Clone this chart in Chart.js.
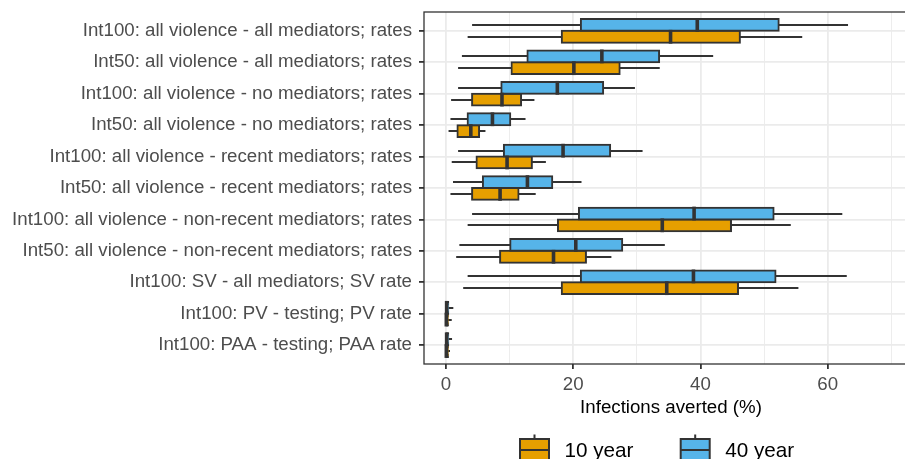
<!DOCTYPE html>
<html>
<head>
<meta charset="utf-8">
<script src="https://cdn.jsdelivr.net/npm/chart.js@4.4.1/dist/chart.umd.min.js"></script>
<style>
  html, body { margin: 0; padding: 0; background: #fff; overflow: hidden; }
</style>
</head>
<body>
<canvas id="chartContainer" width="928" height="475"></canvas>
<script>
// categories, top to bottom
const categories = [
    'Int100: all violence - all mediators; rates',
    'Int50: all violence - all mediators; rates',
    'Int100: all violence - no mediators; rates',
    'Int50: all violence - no mediators; rates',
    'Int100: all violence - recent mediators; rates',
    'Int50: all violence - recent mediators; rates',
    'Int100: all violence - non-recent mediators; rates',
    'Int50: all violence - non-recent mediators; rates',
    'Int100: SV - all mediators; SV rate',
    'Int100: PV - testing; PV rate',
    'Int100: PAA - testing; PAA rate'
];

// 10 year boxplot stats (% infections averted)
const tenLow    = [3.4, 1.9, 0.8, 0.4, 0.9, 0.7, 3.4, 1.6, 2.7, 0, 0];
const tenQ1     = [18.2, 10.3, 4.1, 1.8, 4.8, 4.1, 17.6, 8.5, 18.2, 0, 0];
const tenMedian = [35.3, 20.1, 8.8, 3.9, 9.6, 8.5, 34.0, 16.9, 34.7, 0.05, 0.05];
const tenQ3     = [46.2, 27.3, 11.8, 5.2, 13.5, 11.4, 44.8, 22.0, 45.9, 0.3, 0.3];
const tenHigh   = [56.0, 33.6, 13.9, 6.2, 15.7, 14.1, 54.2, 26.0, 55.4, 0.9, 0.63];

// 40 year boxplot stats
const fortyLow    = [4.1, 2.5, 1.9, 0.7, 1.9, 1.1, 4.1, 2.1, 3.4, 0, 0];
const fortyQ1     = [21.2, 12.8, 8.7, 3.4, 9.1, 5.8, 20.9, 10.1, 21.2, 0, 0];
const fortyMedian = [39.5, 24.5, 17.5, 7.3, 18.4, 12.8, 39.0, 20.4, 38.9, 0.1, 0.1];
const fortyQ3     = [52.3, 33.5, 24.7, 10.1, 25.8, 16.7, 51.5, 27.7, 51.8, 0.35, 0.35];
const fortyHigh   = [63.2, 42.0, 29.7, 12.5, 30.9, 21.3, 62.3, 34.4, 63.0, 1.15, 0.95];

const xTicks = [0, 20, 40, 60];

const ORANGE = '#E69F00';
const BLUE = '#56B4E9';
const DARK = '#333333';
const FONT = '"Liberation Sans", Arial, Helvetica, sans-serif';

Chart.defaults.font.family = FONT;

function boxData(q1, q3) {
    return categories.map((c, i) => ({ y: i, x: [q1[i], q3[i]] }));
}

// whiskers under the boxes, medians + panel border + legend on top
const boxExtras = {
    id: 'boxExtras',
    beforeDatasetsDraw(chart) {
        const ctx = chart.ctx;
        const xs = chart.scales.x;
        ctx.save();
        ctx.strokeStyle = DARK;
        ctx.lineWidth = 2;
        chart.data.datasets.forEach((ds, d) => {
            chart.getDatasetMeta(d).data.forEach((bar, i) => {
                const y = Math.round(bar.y);
                ctx.beginPath();
                ctx.moveTo(xs.getPixelForValue(ds.low[i]), y);
                ctx.lineTo(xs.getPixelForValue(ds.q1[i]), y);
                ctx.moveTo(xs.getPixelForValue(ds.q3[i]), y);
                ctx.lineTo(xs.getPixelForValue(ds.high[i]), y);
                ctx.stroke();
            });
        });
        ctx.restore();
    },
    afterDatasetsDraw(chart) {
        const ctx = chart.ctx;
        const xs = chart.scales.x;
        ctx.save();
        ctx.strokeStyle = DARK;
        ctx.lineWidth = 3.6;
        ctx.lineCap = 'butt';
        chart.data.datasets.forEach((ds, d) => {
            chart.getDatasetMeta(d).data.forEach((bar, i) => {
                const px = xs.getPixelForValue(ds.med[i]);
                ctx.beginPath();
                ctx.moveTo(px, bar.y - bar.height / 2 - 1);
                ctx.lineTo(px, bar.y + bar.height / 2 + 1);
                ctx.stroke();
            });
        });
        ctx.restore();
    },
    afterDraw(chart) {
        const ctx = chart.ctx;
        const a = chart.chartArea;
        ctx.save();
        // panel border
        ctx.strokeStyle = DARK;
        ctx.lineWidth = 1.3;
        ctx.strokeRect(a.left, a.top, a.right - a.left, a.bottom - a.top);

        // axis title
        const mid = (a.left + a.right) / 2;
        ctx.fillStyle = '#000';
        ctx.font = '18.7px ' + FONT;
        ctx.textAlign = 'center';
        ctx.textBaseline = 'middle';
        ctx.fillText('Infections averted (%)', mid, a.bottom + 44);

        // legend
        const items = [
            { label: '10 year', fill: ORANGE, x: mid - 151 },
            { label: '40 year', fill: BLUE, x: mid + 9.7 }
        ];
        const keyTop = a.bottom + 75;
        ctx.font = '20.7px ' + FONT;
        ctx.textBaseline = 'alphabetic';
        items.forEach(it => {
            const w = 29, h = 22, cx = it.x + w / 2;
            ctx.strokeStyle = DARK;
            ctx.lineWidth = 2;
            ctx.beginPath();
            ctx.moveTo(cx, keyTop - 4.5);
            ctx.lineTo(cx, keyTop);
            ctx.moveTo(cx, keyTop + h);
            ctx.lineTo(cx, keyTop + h + 4.5);
            ctx.stroke();
            ctx.fillStyle = it.fill;
            ctx.fillRect(it.x, keyTop, w, h);
            ctx.strokeRect(it.x, keyTop, w, h);
            ctx.beginPath();
            ctx.moveTo(it.x, keyTop + h / 2);
            ctx.lineTo(it.x + w, keyTop + h / 2);
            ctx.stroke();
            ctx.fillStyle = '#000';
            ctx.textAlign = 'left';
            ctx.fillText(it.label, it.x + w + 15.5, a.bottom + 93);
        });
        ctx.restore();
    }
};

const ctx = document.getElementById('chartContainer').getContext('2d');
new Chart(ctx, {
    type: 'bar',
    data: {
        datasets: [{
            label: '40 year',
            data: boxData(fortyQ1, fortyQ3),
            low: fortyLow, q1: fortyQ1, med: fortyMedian, q3: fortyQ3, high: fortyHigh,
            backgroundColor: BLUE,
            borderColor: DARK,
            borderWidth: 2,
            borderSkipped: false,
            inflateAmount: 1
        }, {
            label: '10 year',
            data: boxData(tenQ1, tenQ3),
            low: tenLow, q1: tenQ1, med: tenMedian, q3: tenQ3, high: tenHigh,
            backgroundColor: ORANGE,
            borderColor: DARK,
            borderWidth: 2,
            borderSkipped: false,
            inflateAmount: 1
        }]
    },
    plugins: [boxExtras],
    options: {
        indexAxis: 'y',
        responsive: false,
        animation: false,
        categoryPercentage: 0.75,
        barPercentage: 1.0,
        layout: { padding: { top: 12, right: 10, left: 0, bottom: 0 } },
        plugins: {
            legend: { display: false },
            tooltip: { enabled: false }
        },
        scales: {
            x: {
                type: 'linear',
                min: -3.46,
                max: 74.2,
                border: { display: false },
                grid: {
                    color: '#ebebeb',
                    lineWidth: c => (c.tick && xTicks.includes(c.tick.value)) ? 1.8 : 0.9,
                    tickLength: 5,
                    tickWidth: 1.8,
                    tickColor: c => (c.tick && xTicks.includes(c.tick.value)) ? DARK : 'rgba(0,0,0,0)'
                },
                ticks: {
                    stepSize: 10,
                    includeBounds: false,
                    autoSkip: false,
                    maxRotation: 0,
                    color: '#4d4d4d',
                    font: { size: 18.7 },
                    padding: 5,
                    callback: v => xTicks.includes(v) ? String(v) : ''
                },
                afterFit: s => { s.height = 111; s.paddingLeft = 0; s.paddingRight = 0; }
            },
            y: {
                type: 'linear',
                min: -0.6,
                max: 10.6,
                reverse: true,
                offset: false,
                border: { display: false },
                grid: {
                    offset: false,
                    color: '#ebebeb',
                    lineWidth: 1.8,
                    tickLength: 5,
                    tickWidth: 1.8,
                    tickColor: DARK
                },
                ticks: {
                    stepSize: 1,
                    includeBounds: false,
                    autoSkip: false,
                    maxTicksLimit: 20,
                    color: '#4d4d4d',
                    font: { size: 18.7 },
                    padding: 7,
                    callback: v => Number.isInteger(v) ? categories[v] : ''
                },
                afterFit: s => { s.width = 424; s.paddingTop = 0; s.paddingBottom = 0; }
            }
        }
    }
});
</script>
</body>
</html>
